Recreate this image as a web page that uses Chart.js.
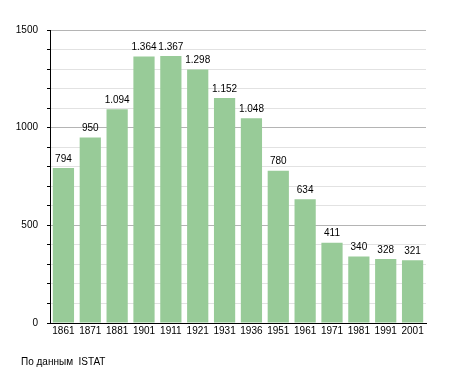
<!DOCTYPE html>
<html>
<head>
    <script src="https://cdn.jsdelivr.net/npm/chart.js@4/dist/chart.umd.min.js"></script>
    <style>
        body { margin: 0; background: #fff; }
        #wrap { position: relative; width: 455px; height: 373px; }
        #note {
            position: absolute;
            left: 21px;
            top: 356px;
            font-family: 'Liberation Sans', Arial, sans-serif;
            font-size: 10px;
            color: #000;
            white-space: pre;
        }
    </style>
    <title>Population</title>
</head>
<body>
    <div id="wrap">
        <canvas id="myChart"></canvas>
        <div id="note"></div>
    </div>
    <script>
        var years = ['1861', '1871', '1881', '1901', '1911', '1921', '1931', '1936', '1951', '1961', '1971', '1981', '1991', '2001'];
        var population = [794, 950, 1094, 1364, 1367, 1298, 1152, 1048, 780, 634, 411, 340, 328, 321];
        var yTickLabels = [0, 500, 1000, 1500];
        var sourceNote = 'По данным  ISTAT';

        var font = { family: "'Liberation Sans', Arial, sans-serif", size: 10 };

        document.getElementById('note').textContent = sourceNote;

        function fmt(n) {
            if (n < 1000) return String(n);
            var r = String(n % 1000);
            while (r.length < 3) r = '0' + r;
            return Math.floor(n / 1000) + '.' + r;
        }

        // numbers over bars
        var valueLabels = {
            id: 'valueLabels',
            afterDatasetsDraw: function (chart) {
                var ctx = chart.ctx;
                var meta = chart.getDatasetMeta(0);
                ctx.save();
                ctx.font = font.size + 'px ' + font.family;
                ctx.fillStyle = '#000';
                ctx.textAlign = 'center';
                ctx.textBaseline = 'bottom';
                meta.data.forEach(function (bar, i) {
                    ctx.fillText(fmt(population[i]), bar.x, bar.y - 4);
                });
                ctx.restore();
            }
        };

        new Chart(document.getElementById('myChart'), {
            type: 'bar',
            data: {
                labels: years,
                datasets: [{
                    data: population,
                    backgroundColor: '#98cb98',
                    borderWidth: 0,
                    barPercentage: 0.79,
                    categoryPercentage: 1
                }]
            },
            options: {
                responsive: true,
                maintainAspectRatio: false,
                animation: false,
                layout: { padding: { top: 30, left: 0, right: 29, bottom: 36 } },
                plugins: {
                    legend: { display: false },
                    tooltip: { enabled: false }
                },
                scales: {
                    x: {
                        grid: { display: false, drawTicks: false, tickLength: 0 },
                        border: { display: true, color: '#000', width: 1 },
                        ticks: { color: '#000', font: font, padding: 2, maxRotation: 0, autoSkip: false },
                        afterFit: function (s) { s.height = 14; }
                    },
                    y: {
                        min: 0,
                        max: 1500,
                        ticks: {
                            stepSize: 100,
                            color: '#000',
                            font: font,
                            padding: 9,
                            callback: function (v) {
                                return yTickLabels.indexOf(v) >= 0 ? String(v) : '';
                            }
                        },
                        grid: {
                            color: function (c) {
                                if (c.tick && c.tick.value === 0) return 'rgba(0,0,0,0)';
                                return c.tick && c.tick.value % 500 === 0 ? '#b4b4b4' : '#e2e2e2';
                            },
                            tickColor: '#000',
                            tickLength: 3
                        },
                        border: { display: true, color: '#000', width: 1 },
                        afterFit: function (s) { s.width = 50; }
                    }
                }
            },
            plugins: [valueLabels]
        });
    </script>
</body>
</html>
